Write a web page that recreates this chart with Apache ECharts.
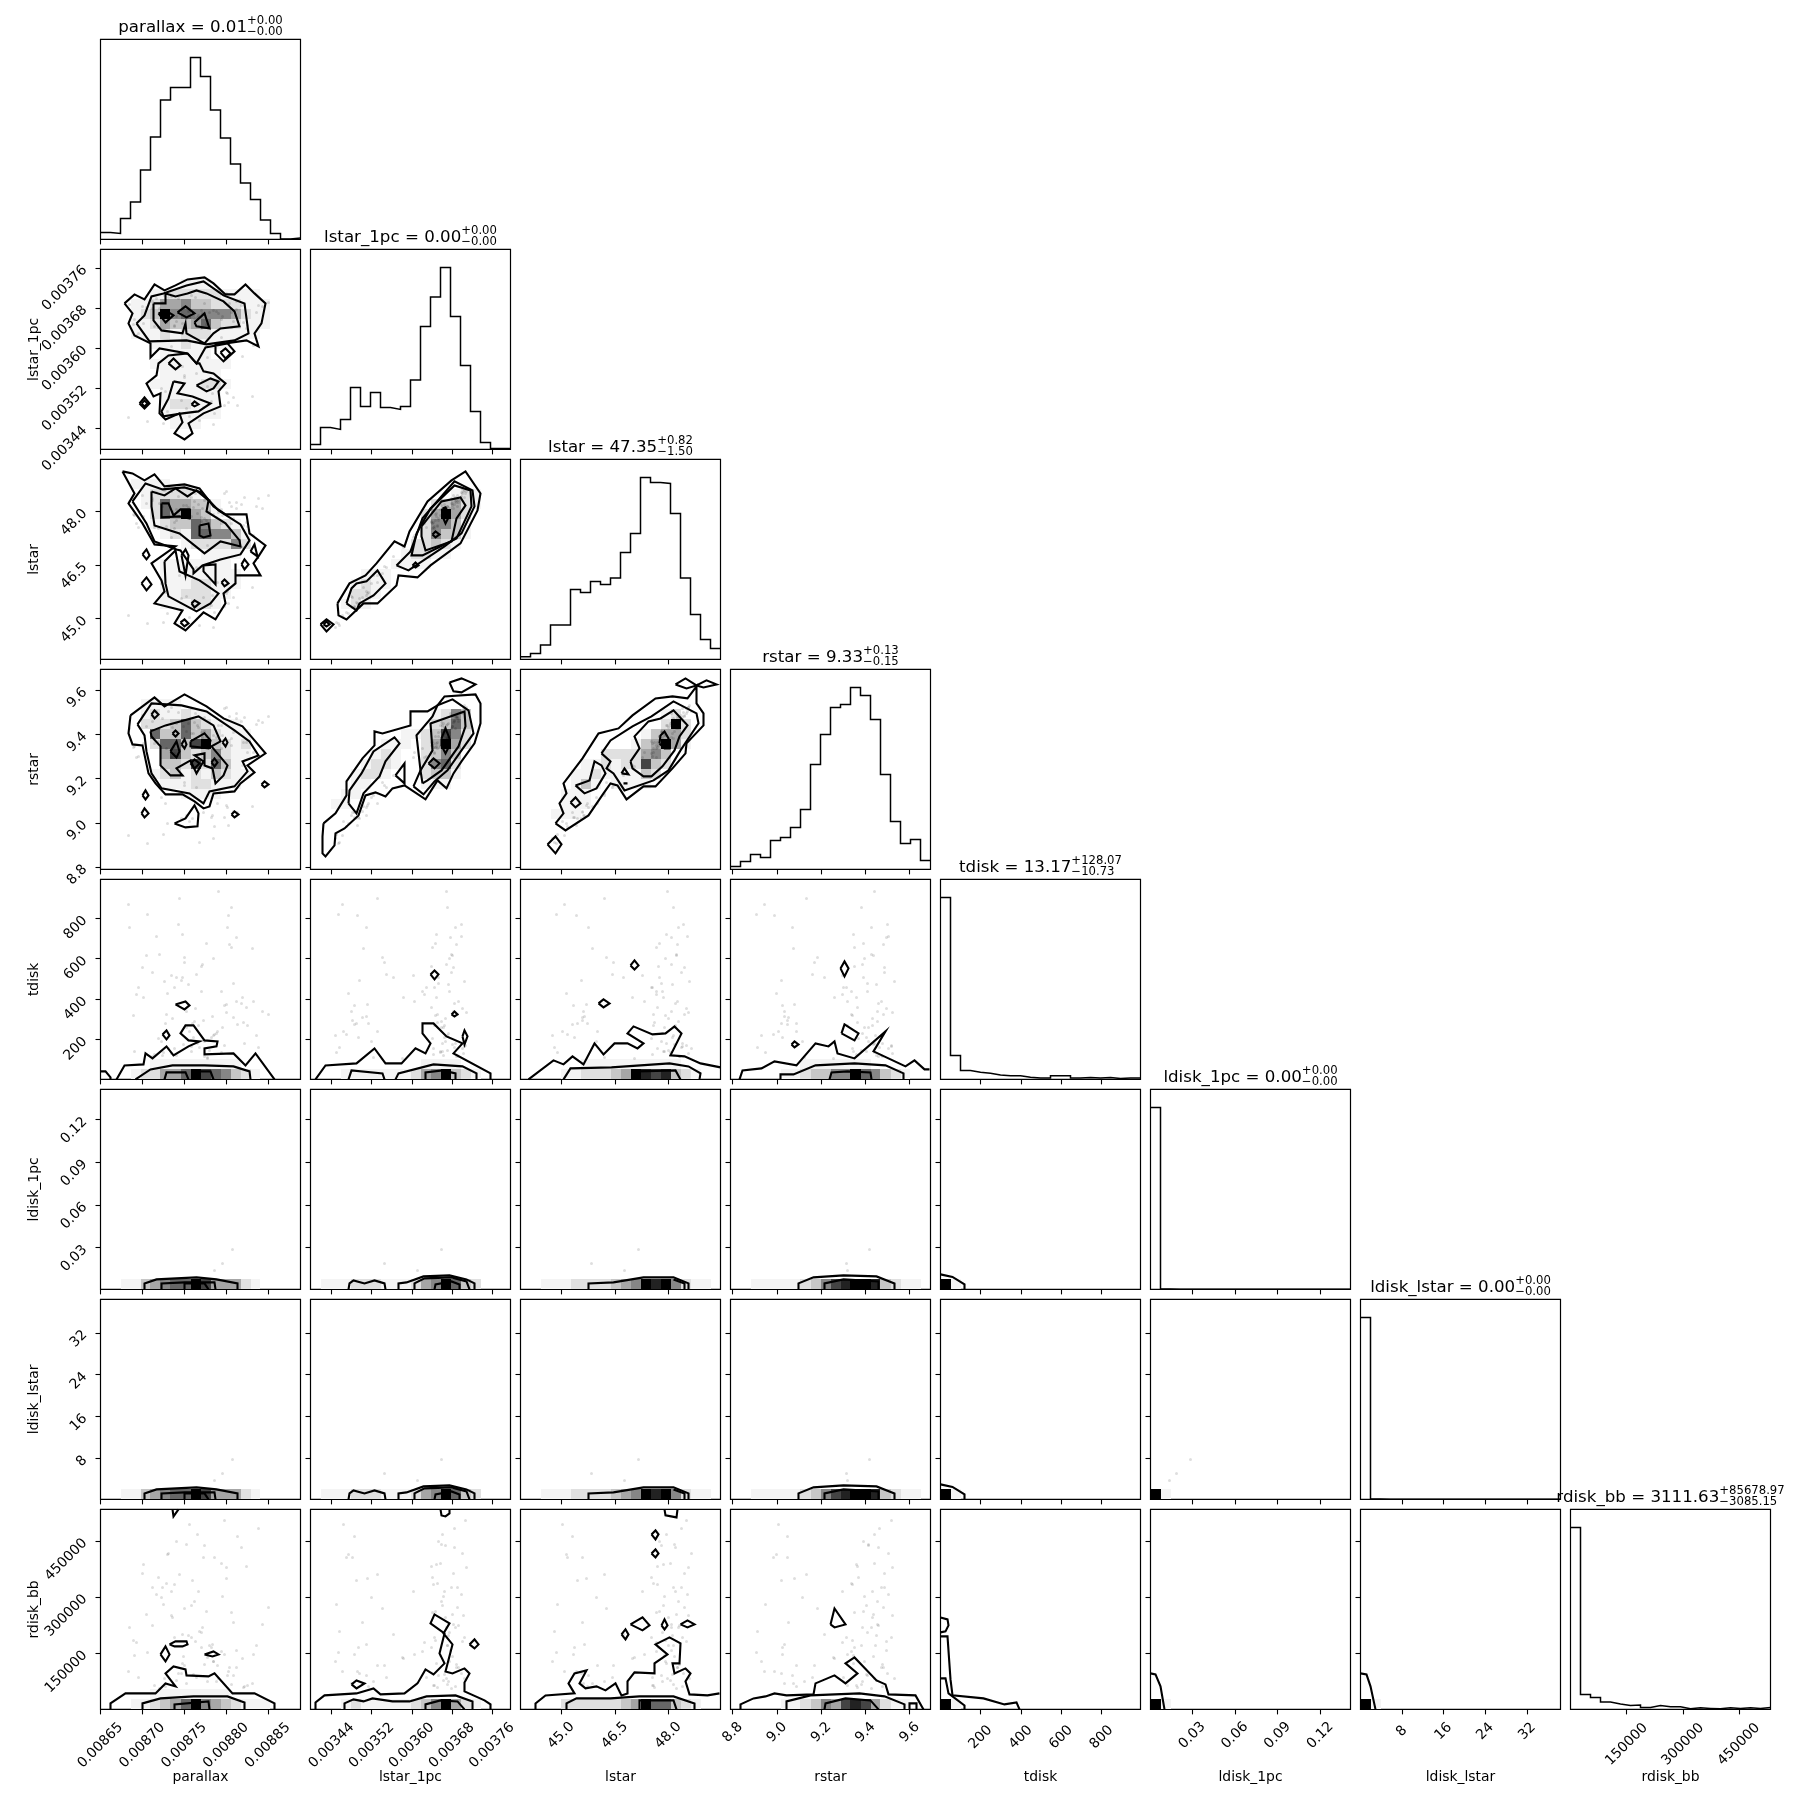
<!DOCTYPE html>
<html><head><meta charset="utf-8"><title>corner</title>
<style>html,body{margin:0;padding:0;background:#fff}#c{width:1809px;height:1809px}</style>
<script src="https://cdn.jsdelivr.net/npm/echarts@6/dist/echarts.min.js"></script></head><body><div id="c"></div>
<script>
const varNames=["parallax","lstar_1pc","lstar","rstar","tdisk","ldisk_1pc","ldisk_lstar","rdisk_bb"];
const medians=["0.01","0.00","47.35","9.33","13.17","0.00","0.00","3111.63"];
const errPlus=["0.00","0.00","0.82","0.13","128.07","0.00","0.00","85678.97"];
const errMinus=["0.00","0.00","1.50","0.15","10.73","0.00","0.00","3085.15"];
const rangeMin=[0.00865,0.003398,43.86,8.79,2,0.0007,0.1,0];
const rangeMax=[0.008889,0.003797,49.46,9.694,993,0.1412,38.4,534000];
const tickValues=[[0.00865,0.0087,0.00875,0.0088,0.00885],[0.00344,0.00352,0.0036,0.00368,0.00376],[45,46.5,48],[8.8,9,9.2,9.4,9.6],[200,400,600,800],[0.03,0.06,0.09,0.12],[8,16,24,32],[150000,300000,450000]];
const tickLabels=[["0.00865","0.00870","0.00875","0.00880","0.00885"],["0.00344","0.00352","0.00360","0.00368","0.00376"],["45.0","46.5","48.0"],["8.8","9.0","9.2","9.4","9.6"],["200","400","600","800"],["0.03","0.06","0.09","0.12"],["8","16","24","32"],["150000","300000","450000"]];
// histogram heights, 20 equal bins per variable, relative scale (peak about 91)
const histParallax=[3.5,3,10.5,18.7,34.7,51.2,69.7,76,76,91,81.5,64.7,50.7,37.7,28.2,20,9.7,3,0.2,0.7];
const histLstar1pc=[2.5,11,10,15,31,21.5,28.5,21,20,21.5,34.7,61.5,76.2,91,66.5,42,19,3.5,0.5,0.5];
const histLstar=[1.3,3,7.2,17.2,17.2,35,33.5,39,37.5,40.7,53.5,63,91,88.5,88,73,40.7,22.5,10,5.5];
const histRstar=[1.5,4,7.5,6,14.5,16,21,30,52.5,67.5,81,82.5,91,87,75,47.5,24,13,15,4.5];
const histTdisk=[91,12,4.5,3.6,3.1,2.2,1.8,1.8,1.1,0.7,0.7,1.8,1.8,0.7,0.9,0.7,0.9,0.4,0.7,0.7];
const histLdisk1pc=[91,0.2,0.1,0.1,0.1,0.1,0.1,0.1,0.1,0.1,0.1,0.1,0.1,0.1,0.1,0.1,0.1,0.1,0.1,0.1];
const histLdiskLstar=[91,0.2,0.1,0.1,0.1,0.1,0.1,0.1,0.1,0.1,0.1,0.1,0.1,0.1,0.1,0.1,0.1,0.1,0.1,0.1];
const histRdisk=[91,7.5,6,3.7,2.7,2,2.2,1,2,1.3,1.3,0.3,0.8,0.5,0.3,0.8,0.5,0.8,0.5,1];
const hists=[histParallax,histLstar1pc,histLstar,histRstar,histTdisk,histLdisk1pc,histLdiskLstar,histRdisk];

// All 2-D values below are in bin units (0..20) of the variable's range, as a corner plot bins them.
// Sparse samples, estimated by eye from the scatter
const tailParallax=[9.3,4.6,11.2,7.4,13.1,6.7,10.4,8.2,14.3,5.6,12.4,9.7,3.8,16.2,7.9,11.6,10.1,6.3,13.6,8.6,15.2,9.1,4.3,12.8,7.2,10.7,5.2,14.7,8.9,11.3,9.5,6.1,13.3,2.9,10.3,7.6,12.1,16.8,8.4,5.8,11.8,9.9,14.1,6.5,10.6,3.4,12.6,8.1,15.6,7.1];
const tailLstar1pc=[13.4,14.2,5.6,12.3,13.7,3.8,14.6,8.3,12.7,15.1,4.4,13.2,11.6,14.3,6.7,13.8,12.1,2.6,14.8,13.1,5.3,15.4,12.6,4.7,13.5,9.2,14.1,12.4,3.3,13.9,15.2,6.1,12.8,14.5,4.2,13.3,11.2,14.7,7.4,12.2,13.6,2.9,14.4,5.8,12.5,13,15.6,4.9,13.7,10.3];
const tailLstar=[15.2,15.6,6.4,13.7,15.3,4.6,15.9,10.3,13.4,16.7,5.3,14.6,13.2,15.1,8.4,14.2,13.8,3.7,15.7,15.4,7.2,16.2,14.3,5.6,14.8,11.4,16.1,13.3,4.2,14.5,16.6,7.6,14.1,15.8,6.2,15,13.6,16.4,9.3,13.1,14.7,3.4,15.5,6.7,13.9,14.4,16.8,6.1,15.3,12.2];
const tailRstar=[13.6,14.3,5.4,12.2,13.1,4.6,15.2,9.4,12.7,15.8,5.2,14.4,11.3,14.7,7.6,13.2,12.4,3.5,15.1,13.8,6.3,16.1,12.6,4.4,14.2,10.3,15.4,11.7,4.8,13.4,15.6,7.2,13.7,14.1,5.7,14.6,12.1,15.3,8.4,12.8,14.4,2.7,14.8,6.6,13.3,12.3,16.2,5.1,14.5,11.2];
const tailTdisk=[4.2,12.4,6.3,3.1,17.2,8.6,2.3,10.2,5.7,14.3,7.4,3.6,9.2,6.8,18.1,4.6,11.3,2.7,7.8,5.2,13.1,3.3,8.2,16.4,6.1,2.1,10.7,5.4,4.8,12.1,7.1,3.8,9.6,15.2,5.9,2.4,8.8,6.5,11.7,4.1,18.8,3.2,7.6,5.6,13.6,2.8,6.7,9.9,4.4,10.4];
const tailRdisk=[3.5,9.5,6.5,12.5,2.5,15.5,4.5,7.5,2.2,11.5,5.5,17.5,3.2,8.5,13.5,2.8,6.2,10.5,4.2,16.5,2.6,7.2,14.5,3.8,9.2,5.2,12.2,2.4,18.5,4.8,6.8,11.2,3.4,8.2,15.2,2.9,5.8,10.2,4.4,13.2,3.1,7.8,16.2,2.3,9.8,5.4,14.2,3.6,6.4,11.8];
const wideParallax=[8.3,12.6,5.4,10.2,13.7,7.8,9.1,3.6,11.4,12.9,6.6,10.7,8.8,15.8,4.7,12.2,9.6,7.1,14.6,11.1,5.9,10.4,13.3,8.2,6.2,14.2,9.4,2.8,12.4,7.4,11.7,4.2,10.9,8.6,13.1,6.8,15.3,9.8,12.7,5.2,7.6,11.3,10.1,14.4,8.4,3.3,12.1,6.4,9.2,13.6];
const wideLstar1pc=[14.2,5.7,12.3,13.6,4.4,15.1,13.2,11.4,3.6,14.6,12.7,6.3,13.8,14.4,2.8,13.3,7.6,15.3,12.1,4.8,14.1,13.5,5.2,12.6,14.7,9.3,13.1,3.2,15.5,12.4,6.7,14.3,13.7,4.1,12.2,15.2,10.4,13.4,5.6,14.8,12.8,2.5,13.9,14.5,7.2,12.5,13,15.4,4.6,14];
const wideLstar=[15.4,6.6,13.2,15.1,5.2,16.3,14.3,13.6,4.7,15.7,13.3,8.4,15.2,16.1,3.6,14.4,9.2,16.8,13.7,5.4,15.6,14.1,6.2,14.6,15.3,11.2,15.8,4.4,16.6,13.1,7.7,16.4,14.8,6.3,13.6,17.1,12.4,15.5,6.8,15.9,13.9,3.2,14.2,16.2,8.6,14.5,15,16.9,5.7,15.1];
const wideRstar=[14.3,6.4,12.6,13.2,5.7,15.7,13.6,11.2,4.3,15.3,12.1,7.4,14.6,14.9,2.6,13.4,8.2,16.2,12.7,5.2,14.1,13.8,5.8,12.3,15.1,10.4,14.7,3.4,16.1,11.6,6.6,15.4,13.1,5.4,12.4,15.8,11.7,14.2,6.2,14.8,13.3,3.1,13.7,15.2,8.7,12.2,14.4,16.4,5.1,15.6];
const wideRdisk=[5.3,13.1,2.4,8.2,17.3,3.6,10.4,6.7,15.2,4.2,12.6,2.8,7.4,18.1,5.7,11.3,3.2,9.4,14.3,6.2,2.1,16.4,8.7,4.6,12.2,5.1,10.8,3.8,18.9,7.2,4.4,13.6,6.4,2.6,9.7,15.6,5.5,11.8,3.4,8.4,16.8,4.8,7.7,2.3,10.1,6.9,14.6,3.1,12.9,5.9];
const wideTdisk=[3.5,7.5,2.5,11.5,5.5,15.5,2.8,8.5,4.5,13.5,6.5,2.2,9.5,3.2,16.5,5.2,10.5,2.6,7.2,4.2,12.5,3.8,6.2,14.5,2.4,8.2,5.8,17.5,3.4,9.2,4.8,11.2,2.9,6.8,13.2,3.1,7.8,5.4,15.2,2.3,10.2,4.4,8.8,3.6,12.2,6.4,2.7,9.8,5.6,14.2];
const rareParallax=[13.2,12.2,11.4];
const rareLstar1pc=[13.1,7.4,10.7];
const rareLstar=[11.8,7.1,10.4];
const rareRstar=[13.9,11.6,11.7];
const rareLdisk=[4,2.6,1.9];

// 2-D density: rows of [y bin, first x bin, level per bin (0..9)]
const dens_1_0=[[16,8,"111"],[15,5,"11222221111"],[14,3,"11244533222111"],[13,3,"12395655554211"],[12,3,"11243346322111"],[11,3,"1112122211111"],[10,5,"11121111"],[9,6,"11111"],[8,5,"11111111"],[7,6,"111111"],[6,5,"11111221"],[5,6,"111111"],[4,6,"122111"],[3,6,"111111"],[2,7,"111"]];
const dens_2_0=[[17,3,"1111"],[16,4,"122221"],[15,4,"12644331"],[14,5,"2649431"],[13,5,"123365321"],[12,6,"121665531"],[11,8,"1222252"],[10,10,"1111"],[9,6,"1111111"],[8,6,"11111111"],[7,6,"11122111"],[6,6,"1122211"],[5,6,"111221"]];
const dens_2_1=[[16,14,"121"],[15,12,"23421"],[14,11,"24942"],[13,11,"25531"],[12,11,"25331"],[11,10,"22321"],[10,9,"12211"],[9,8,"1111"],[8,5,"111"],[7,4,"1211"],[6,4,"221"],[5,3,"121"]];
const dens_3_0=[[16,4,"1111"],[15,4,"1211211"],[14,4,"2223632111"],[13,5,"6336342111"],[12,5,"2663793212"],[11,6,"473235211"],[10,6,"33272631"],[9,5,"1231213211"],[8,6,"11122111"],[7,8,"1111"]];
const dens_3_1=[[15,12,"1253"],[14,12,"2363"],[13,11,"23752"],[12,11,"24942"],[11,11,"2353"],[10,11,"2562"],[9,11,"2331"],[8,11,"111"],[13,9,"11"],[12,7,"111"],[11,6,"121"],[10,5,"1221"],[9,4,"1221"],[8,4,"11"],[7,3,"11"],[6,2,"11"]];
const dens_3_2=[[15,14,"12"],[14,14,"292"],[13,12,"13442"],[12,11,"134941"],[11,8,"2222453"],[10,6,"112122732"],[9,5,"112111132"],[8,5,"131"],[8,9,"1111"],[7,4,"111"],[6,4,"111"],[5,3,"111"]];
const dens_4_0=[[0,3,"1224469765321"],[1,5,"111111111"]];
const dens_4_1=[[0,3,"11111112459321"],[1,11,"1111"]];
const dens_4_2=[[0,4,"11222349878321"],[1,6,"1111111111"]];
const dens_4_3=[[0,5,"1123355965321"],[1,7,"1111111"]];
const dens_5_0=[[0,2,"11345669744421"]];
const dens_5_1=[[0,1,"1112221112459632"]];
const dens_5_2=[[0,2,"11122223459895211"]];
const dens_5_3=[[0,2,"11111235789983211"]];
const dens_7_0=[[0,3,"11234695432111"],[1,5,"11111111"]];
const dens_7_1=[[0,3,"12111112359421"]];
const dens_7_2=[[0,4,"22222234966321"]];
const dens_7_3=[[0,5,"1123547874211"]];
const dens_peak=[[0,0,"91"]];

// Contours: flat x,y lists in bin units
const cont_1_0=[
[2.4,14.6,3.4,15.5,4.4,15,5.4,16.5,6.4,15.9,7.5,16.4,8.7,17,10.4,17.2,11.3,16.6,12.5,15.5,13.4,15.5,14.5,16.5,15.4,15.6,16.5,14.6,16.1,12.6,15.4,11.6,15.8,10.3,14.6,10.9,12.5,10.6,11.5,10.5,11.5,9.6,12.3,8.8,13.4,9.8,12.7,10.6,10.5,10.2,9.6,8.6,8.7,9.6,5.9,10.1,5,9.2,5,10.6,3.4,11.4,2.8,12.6,3.2,13.6],
[3.6,12.6,4.4,13.4,5.1,15.3,6.3,15.6,8.6,16.4,10.3,16.8,12.3,15.4,14.4,14.6,14.8,11.6,13.4,10.9,10.6,10.5,8.6,10.9,4.9,10.8],
[5.3,14.6,6.5,14.6,6.5,15.6,7.5,15.3,8.7,15.6,9.6,15.9,10.6,15.6,12.3,14.8,13.4,13.8,13.9,12.3,12,12.1,11.3,11.6,10.4,10.6,8.6,11.6,8.5,12.6,8.2,11.6,6.1,11.9,5.3,12.9],
[5.8,13.6,6.5,13.9,7.3,13.4,6.5,12.7],[7.7,13.7,8.5,14.3,9.4,13.6,8.6,13.2],[9.4,12.7,10.4,13.6,10.9,12.1,9.6,12.3],
[8.7,9.6,6.8,9.4,5.8,8.6,5.6,7.4,4.6,6.6,5.3,5.3,6,5.6,5.9,3.6,6.5,3,7.9,3.6,8.2,2.7,7.4,1.6,8.4,1,9.2,1.6,8.8,2.6,10.3,3.6,12,4.3,11.8,5.8,12.5,6.6,11.3,7.6,10.3,7.8,9.9,8.6,9.6,8.6],
[7.3,6.8,8.4,6.6,7.7,5.6,9.2,5.3,11,4.6,9.8,3.8,8.2,3.6,6.3,3.3,6.1,3.8,6.8,5.1],
[9.6,6.4,11,7.1,11.8,6.8,11.3,6.1,10.6,5.8],
[6.8,8.6,7.3,9.1,8,8.4,7.5,8],[12,9.7,12.5,10.1,13,9.6,12.5,9.1],[3.9,4.6,4.4,5.2,4.9,4.6,4.4,4.1],[4.1,4.6,4.4,4.9,4.7,4.6,4.4,4.3],[9.1,4.5,9.4,4.8,9.8,4.5,9.4,4.3]];
const cont_2_0=[
[2.2,18.8,3.2,18.6,4.4,17.9,5.4,18.5,6.4,17.3,8.4,17.5,9.9,17.1,11.3,15.3,12.5,14.5,14.6,14.5,14.9,12.6,16.5,11.4,15.8,10.3,15.3,9.6,16,8.4,13.5,8.4,13.5,9.6,13.5,7.6,12.3,6.6,12.5,5.6,11.5,4,10.3,4.7,8.5,2.9,7.4,3.6,8.2,4.9,5.4,5.6,6.4,6.8,6.1,7.9,5.1,9.6,7.5,11.3,5.4,11.5,4.2,13.6,2.8,15.6,3.4,16.6],
[3.2,15.8,4.5,17.6,6.2,17,8.4,17.2,10.1,16.7,11.8,14.9,14,13.5,14.9,11.9,14,10.5,12,10,10.2,9.4,9.3,8.6,9.3,9,8,10.9,7.6,11,5.4,11.8,4.6,13.6],
[6.4,9.8,7.5,10.9,7.9,8.8,9.9,7.9,11.8,6.6,11,5.6,9.6,4.8,6.8,6.3,6.5,7.6],
[5.1,16.8,6.4,16.4,7.5,17.1,8.7,16.3,9.6,16.9,10.8,15.9,10.6,14.8,12.5,13.6,13.9,11.9,14,11.3,12,11.8,10.4,10.6,7.9,12.6,5.4,13.4,5.1,15.3],
[6.1,15.6,6.8,15.6,7.3,14.4,8,15,8.9,15,8.9,14.1,7.9,14.3,6.1,14.2],[9.9,13.4,10.8,13.6,11,12.4,10.3,12.2,9.9,12.4],
[4.2,10.5,4.6,11,4.9,10.4,4.6,10],[4.1,7.6,4.6,8.2,5.1,7.5,4.6,6.9],[8.1,10.4,8.5,11,8.8,10.4,8.5,8.4],[10.3,9.4,11.5,9.5,11.5,7.5,10.3,8.8],[12.1,7.7,12.4,8,12.8,7.6,12.4,7.3],[14.1,9.5,14.4,10,14.8,9.5,14.4,9],[15,10.8,15.4,11.5,15.7,10.3],[9.1,5.6,9.4,5.9,9.9,5.6,9.4,5.2],[8,3.7,8.4,4,8.8,3.6,8.4,3.3]];
const cont_2_1=[
[2.7,5.6,3.9,7.6,5.5,8.4,6.6,9.6,8.4,11.8,9.4,11.3,9.9,12.8,11.7,15.8,14.1,17.9,15.5,18.8,17,16.6,16.7,14.9,15,11.6,12,9.4,10.7,8.2,8.8,8.4,8.6,7.4,6.7,5.6,5.3,5.6,3.6,4,2.8,4.4],
[8.6,9.4,10,10.8,11.2,14.1,14.4,17.8,16.2,16.9,16.4,15.3,15.1,12.6,13.4,11.3,9.8,8.9],
[10.6,12.6,12,15.1,14.4,17.4,16,16.9,16.1,15.3,14.6,12.1,11.2,10.4,10.1,10.4],
[11.1,13.3,13.1,15.8,15,16.2,15.5,15.4,14.6,14.1,14.1,11.8,11.5,10.9,11.1,12.3],
[13.2,15.1,13.5,15.2,13.9,14.4,13.5,13.6,13.2,14.3],[12.2,12.5,12.5,12.8,12.9,12.5,12.5,12.2],[10.2,9.4,10.5,9.7,10.8,9.4,10.5,9.2],
[3.6,5.6,4.1,7.1,4.6,7.6,5.6,7.8,6.7,8.9,7.5,7.6,6.3,6.4,4.9,5.6,4.6,4.9],
[1,3.5,1.6,4,2.3,3.5,1.6,2.8],[1.3,3.5,1.6,3.8,1.9,3.5,1.6,3.3]];
const cont_3_0=[
[3,15.4,5.4,17.2,6.4,16.3,8.4,17.5,10.6,16.3,12.3,15.1,14.2,14.3,15.4,12.9,16.5,11.6,14.7,10.4,15.4,9.7,14,8.6,13.4,7.8,11.3,7.6,10.9,6.3,10.3,6.1,9.4,6.8,8.2,7.5,6.5,7.5,5.5,8.6,4.8,9.6,4.2,12.4,3.2,12.5,2.8,13.6],
[3.7,14.5,5.1,16.6,8.1,16.4,10.6,15.8,13.4,13.9,14.9,12.8,15.8,11.4,14.2,10.8,14.7,9.8,13.4,8.3,10.9,7.8,10.3,6.6,8.9,7.6,6.1,8.1,5.1,9.6,4.6,11.8,4.4,13.4],
[5,13.8,6.5,14.4,9.8,15.3,11.3,14.4,12,12.8,11.1,12.3,12.7,10.4,12.3,9.4,11.5,8.6,11.2,10.1,10.4,10.4,10.4,11.6,9.4,11.4,10.3,10.8,9.6,9.6,9,10.9,7.6,10.1,8.2,9.4,7,9.4,6,10.4,6,12.3,5.1,13.3],
[7,11.8,7.6,12.8,7.9,11.8,7.6,11.2],[7.2,13.6,7.5,13.9,7.8,13.6,7.5,13.3],[8.1,12.5,8.4,13,8.6,12.5,8.4,12.1],[9,12.8,10.4,13.6,11,12.9,10.8,12.1,9,12.3],[9,10.6,9.4,11,9.9,10.6,9.4,10.1],[11.1,10.7,11.4,11.1,11.7,10.7,11.4,10.3],[12.2,12.7,12.5,13.1,12.7,12.7,12.5,12.3],[5.1,15.5,5.4,15.9,5.8,15.5,5.4,15.1],
[4.2,7.4,4.5,7.9,4.8,7.4,4.5,7],[4.1,5.6,4.4,6.1,4.8,5.6,4.4,5.2],[16.1,8.5,16.4,8.8,16.8,8.5,16.4,8.2],[13.1,5.5,13.4,5.8,13.8,5.5,13.4,5.2],
[7.4,4.6,8.5,5.1,9.4,6.4,9.8,5.6,9.7,4.3,8.5,4.2]];
const cont_3_1=[
[1.3,4.6,2.5,5.6,3.6,7.4,3.6,8.8,5.2,11.1,6.4,12.4,6.4,13.8,7.2,13.6,10,14.4,10,15.8,11.7,15.8,12.7,16.4,13.4,17.3,16.5,17.5,17,16.6,17,14.6,16.4,12.6,15.1,10.8,14.3,9.6,13.6,8.1,12.7,8.9,12.2,8.1,11.5,7,9.4,8.4,8.2,8.1,7.5,7.3,6.5,7.7,5.5,7.4,4.8,5.4,3.4,4.1,2.5,3.6,2.4,2.4,1.5,1.3,1.2,1.6,1.2,3.3],
[10.3,8.3,11,9.9,10.6,13.4,12.2,15.3,12.7,16.4,14.2,17,15.8,15.9,16.3,13.6,15.1,11.9,13.7,9.9,12.4,8.8,11.3,7.5],
[11.2,8.6,11,9.9,12.2,11.9,12,14.6,15.4,15.8,15.5,14.3,14.8,12.3,13.1,9.9,11.7,8.9],
[11.8,10.6,12.3,11.1,12.9,10.6,12.4,10.1],[13.1,13.1,13.5,14.1,13.9,13.1,13.9,12.4,13.5,11.6,13.1,12.4],
[3.8,6.6,3.9,7.9,5.1,9.6,6.3,11.8,8.4,13.2,8.9,12.6,7.5,10.8,6.9,9.3,5.3,7.6,4.6,5.6],
[8.5,9.4,9.4,10.6,9.4,8.6],[13.9,18.7,15.1,19.1,16.5,18.5,15.1,17.7,14.3,17.8]];
const cont_3_2=[
[3.5,4.6,4.3,5.6,3.9,6.6,4.6,7.6,4.3,8.6,6.2,11.1,7.8,13.6,9.8,14.1,11.2,15.4,13.5,17.1,15.2,17.3,16.7,17.1,17.6,18.3,17.6,16.6,18.3,15.6,18.3,14.4,16.6,12.6,16.5,11.6,15.2,10.1,13.5,8.3,12.3,8.3,10.6,7,9.7,8.4,9,8.6,8.3,7.6,6.8,5.4,4.5,3.9],
[15.5,18.5,16.5,19.1,17.6,18.4,16.6,18.1],[17.6,18.4,18.6,18.9,19.6,18.5,18.3,18.2],
[8.1,11.6,9,12.9,11.2,14.3,13.1,15.3,15.3,16.8,17.6,15.6,17.8,14.6,16,11.9,14.8,9.9,13.3,8.9,10.4,7.9,9.3,9.6,8.6,10.1,9,10.8],
[11,10.8,11.9,12.1,11.4,13.3,12.8,14.8,14,15.1,15.3,15.9,16.7,14.4,15.9,13.3,15.4,11.9,14.2,10.3,13.1,9.3,12.3,9.3,11.2,10.1],
[13.9,12.6,14,13.4,14.4,13.8,14.8,13.1,14.9,12.1,14.4,12.1],
[5.5,8.4,6.9,8.9,7.4,10.8,8.1,10.4,8.5,9.6,7.6,8.1,6.4,7.6],
[5,6.7,5.5,7.2,6,6.6,5.5,6.2],[10.1,9.6,10.4,10.1,10.8,9.5],[10.3,8.6,10.5,8.8,10.7,8.6,10.5,8.4],[2.7,2.5,3.5,3.3,4.1,2.5,3.5,1.6]];
const cont_4_0=[
[0,0.8,0.5,0.8,1,0.2,1,0],
[1.6,0,2.4,1.4,4.3,1.5,4.5,2.6,5.2,2.1,6.6,3.3,7.3,2.4,8.8,3.3,9.9,3.8,8.8,3.9,8,4.6,8.5,5.4,9.3,5.4,10.4,3.9,11.7,3.8,11.6,3.3,10.4,3.1,10.4,2.5,13.3,2.6,14.5,1.4,15.5,2.6,17.4,0],
[3.5,0,5,1,7.2,1.4,10.4,1.4,13.3,1.3,14.9,0.8,15,0],
[6.4,0,6.6,0.7,8.5,0.7,8.8,0],[9.5,0,9.5,0.8,11,0.8,11.3,0],
[7.5,7.5,8.5,7.8,8.9,7.4,8.4,7],[6.2,4.5,6.6,4.9,6.9,4.4,6.6,4]];
const cont_4_1=[
[0.5,0,1.5,1.4,4.6,1.6,6.4,3.1,7.5,1.6,9.1,1.6,10.5,3.1,11.5,2.6,12,3.6,11.2,4.6,11.2,5.6,12.3,5.6,13.6,4.3,15.2,3.6,14.3,2.6,18,0.6,18,0],
[15.2,4.3,15.4,4.9,15.7,4.3,15.4,3.5],[3.8,0,4.1,0.9,7.2,0.6,7.4,0],
[8.5,0,8.8,0.6,12.3,1.5,15.2,1.3,16.6,0.6,16.6,0],[11.5,0,11.5,0.7,13.2,0.9,14.5,0.6,14.5,0],
[12,10.5,12.4,10.9,12.8,10.5,12.4,10],[14.1,6.5,14.4,6.8,14.7,6.5,14.4,6.3]];
const cont_4_2=[
[0.8,0,3.3,1.9,4.3,1.5,5.2,2.3,6.3,1.5,7.4,3.6,8.3,2.5,9.4,3.6,10.7,3.6,11.7,3.1,12.3,3.6,10.7,4.6,11.3,5.3,13.2,4.5,14.5,4.6,15.4,5.3,16.1,4.6,15,2.4,16.4,2.3,18,1.6,20,1.2],
[4.3,0,5,1.1,9.1,1.2,14.9,1.6,16.8,1.3,18,0.6,17.9,0],[11.3,0,11.7,0.8,15.5,0.9,16,0],
[11,11.4,11.4,11.9,11.8,11.4,11.4,11],[7.8,7.6,8.3,8,8.9,7.6,8.3,7.2]];
const cont_4_3=[
[0.9,0,1.2,0.9,3.1,1.1,4.4,1.8,6.6,1.4,8.5,3.6,9.8,3.3,10.4,3.8,10.7,2.6,12.4,2.1,15.5,4.8,14.3,2.8,17.5,1.3,18.4,1.9,19.4,1,19.9,1],
[5,0,5,0.5,6.3,0.5,8.5,1.4,12.4,1.6,15.5,1.4,17.3,0.6,17.3,0],[9.9,0,10.1,0.7,11.7,0.8,14,0.7,14.1,0],
[11.1,4.6,11.4,5.5,12.8,4.6,12.4,3.9],[6.1,3.5,6.4,3.8,6.8,3.5,6.4,3.2],[11,11.1,11.4,11.8,11.8,11.1,11.4,10.3]];
const cont_5_0=[[4.4,0,4.4,0.6,5.6,1,9.6,1.2,11.6,1,13.7,0.6,13.7,0],[6.1,0,6.1,0.6,8.4,0.7,11.4,0.7,11.5,0],[8.4,0,8.4,0.6,10.4,0.6,10.8,0]];
const cont_5_1=[[3.8,0,3.9,0.6,4.3,0.9,5.4,0.6,6.4,0.9,7.4,0.6,7.5,0],[8.8,0,8.8,0.6,9.6,0.7,11.3,1.3,13.9,1.4,15.6,1,16.4,0.6,16.4,0],[10.4,0,10.4,0.6,11.4,1.1,14.1,1.2,15.6,0.8,15.9,0],[12.4,0,12.5,0.5,14.1,0.8,14.9,0.5,14.9,0]];
const cont_5_2=[[6.8,0,6.8,0.6,9.3,0.7,12.3,1.2,15.3,1.2,16.8,0.6,16.8,0],[16.4,0,16.4,0.6,15.3,1]];
const cont_5_3=[[6.8,0,6.8,0.6,8.3,1.2,11.3,1.4,14.6,1.3,16.4,0.6,16.4,0],[9.4,0,9.4,0.6,11.3,1,14.8,0.8,14.8,0]];
const cont_dome=[[0,1.5,1.2,1.25,2.4,0.5,2.4,0]];
const cont_7_0=[
[1,0,1,0.6,2.5,1.6,5.5,1.6,6.5,2.6,7.5,2.3,6.5,3.6,7.3,4.3,8.5,4,8.6,3.4,10.8,3.3,11.4,3.6,13.2,1.6,15.4,1.6,17.4,0.6,17.4,0],
[4.2,0,4.2,0.6,6,1.1,9.3,1.3,12.7,1.3,14.4,0.7,14.4,0],[7.4,0,7.4,0.5,10.8,0.8,10.9,0],
[6,5.5,6.5,6.3,6.9,5.5,6.5,4.8],[6.9,6.5,7.5,6.8,8.6,6.8,8.7,6.5,8.2,6.3,7.4,6.3],[10.4,5.5,11.3,5.8,11.8,5.5,11.2,5.3],[7.2,20,7.3,19.3,7.5,19.2,7.8,20]];
const cont_7_1=[
[0.5,0,0.5,0.7,1.4,1.4,4.6,1.6,6.3,2.1,7,1.5,9.4,1.6,10.7,2.6,11.5,4,12.3,3.5,13.4,4.6,12.9,5.6,13.4,7.6,12,8.6,12.4,9.5,13.9,8.6,13.3,7.6,14.2,6.5,13.5,3.8,14.2,3.6,15.4,4.1,15.9,3.6,15.4,2.7,15.4,1.8,17.4,0.9,18,0.5,18,0],
[3.4,0,3.4,0.6,4.3,1,5.3,0.8,6.2,1.1,8.2,0.8,9.9,0.8,11.6,1.3,14.5,1.4,16.2,0.8,16.2,0],[11.5,0,11.5,0.5,13,0.9,14.7,0.8,15.4,0],
[15.9,6.5,16.4,7,16.8,6.5,16.4,6.1],[4.1,2.5,4.6,2.9,5.4,2.6,4.6,2.1],[13,20,13.1,19.4,13.5,19.3,13.9,19.6,13.9,20]];
const cont_7_2=[
[1.5,0,1.5,0.6,2.5,1.4,5.4,1.6,4.8,2.6,5.4,3.6,6.6,3.9,5.9,2.6,6.5,2.1,7.6,2.3,8.5,1.9,9.5,2.6,10.1,1.4,10.7,1.6,10.7,2.8,11.4,3.7,13.4,3.6,13.4,4.6,14.7,5.5,13.5,6.5,14.9,7.2,16,6.6,15.9,4.6,15.2,4.6,15.4,3.6,16.5,4.1,17,3.6,16.5,2.8,16.9,1.5,18.7,1.4,19.9,1.6],
[4.6,0,4.6,0.6,5.6,1.1,9,1.1,11.9,1.3,15.3,1.3,17.4,0.6,17.4,0],[11.9,0,11.9,0.9,15.3,0.9,15.6,0],
[10.1,7.5,10.5,8,10.8,7.5,10.5,7],[11,8.5,12.2,9.2,12.9,8.4,12.2,7.9],[14.1,8.4,14.4,9,14.7,8.4,14.4,8],[16,8.5,16.7,8.9,17.4,8.5,16.7,8.2],[13.1,17.5,13.5,17.9,13.8,17.5,13.5,17],[13.1,15.6,13.5,16,13.8,15.6,13.5,15.2],[14.4,20,14.5,19.4,15.6,19.2,15.7,20]];
const cont_7_3=[
[1,0,1,0.5,2.3,1.1,3.5,1.3,4.4,1.6,5.6,1.4,8.3,1.5,8.5,2.6,10.4,3.4,11.5,2.6,12.7,3.6,11.5,4.6,12.4,5.2,14.6,2.9,15.5,2.5,15.8,1.5,18.5,1.4,19.3,0],
[5.6,0,5.6,0.8,8,1.4,12.9,1.6,15.4,1.3,17.4,0.5,17.4,0],[9.4,0,9.5,0.6,11.5,1.1,14,0.9,14.8,0],[17.9,0,17.9,0.6,18.6,0.6,18.6,0],[10,8.5,10.4,10.1,11.5,8.5,10.4,8.2]];
const cont_7_4=[[0,9.2,0.7,9,0.8,8.4,0.5,7.8,0,7.7],[0,7.3,0.7,7.3,1,3,1.2,1.4,4.3,1.1,6.4,0.5,7.6,0.7,7.9,0],[0,3.1,0.5,3.1,0.8,1.6,2.4,0.4,2.4,0]];
const cont_7_5=[[0,3.6,0.5,3.5,1,2.3,1.4,0]];
const cont_7_6=[[0,3.6,0.6,3.5,1,2.3,1.5,0]];

const densityByPanel={"1_0":dens_1_0,"2_0":dens_2_0,"2_1":dens_2_1,"3_0":dens_3_0,"3_1":dens_3_1,"3_2":dens_3_2,"4_0":dens_4_0,"4_1":dens_4_1,"4_2":dens_4_2,"4_3":dens_4_3,"5_0":dens_5_0,"5_1":dens_5_1,"5_2":dens_5_2,"5_3":dens_5_3,"5_4":dens_peak,"6_0":dens_5_0,"6_1":dens_5_1,"6_2":dens_5_2,"6_3":dens_5_3,"6_4":dens_peak,"6_5":dens_peak,"7_0":dens_7_0,"7_1":dens_7_1,"7_2":dens_7_2,"7_3":dens_7_3,"7_4":dens_peak,"7_5":dens_peak,"7_6":dens_peak};
const contoursByPanel={"1_0":cont_1_0,"2_0":cont_2_0,"2_1":cont_2_1,"3_0":cont_3_0,"3_1":cont_3_1,"3_2":cont_3_2,"4_0":cont_4_0,"4_1":cont_4_1,"4_2":cont_4_2,"4_3":cont_4_3,"5_0":cont_5_0,"5_1":cont_5_1,"5_2":cont_5_2,"5_3":cont_5_3,"5_4":cont_dome,"6_0":cont_5_0,"6_1":cont_5_1,"6_2":cont_5_2,"6_3":cont_5_3,"6_4":cont_dome,"7_0":cont_7_0,"7_1":cont_7_1,"7_2":cont_7_2,"7_3":cont_7_3,"7_4":cont_7_4,"7_5":cont_7_5,"7_6":cont_7_6};

// ---- layout and style ----
const PX=100.5,PY=39.4,SIZE=200,PITCH=210;
const FONT='"DejaVu Sans"';
const grayRamp=["#ffffff","#f4f4f4","#e0e0e0","#c6c6c6","#a6a6a6","#868686","#666666","#444444","#222222","#000000"];
const xLabelMargin=[36,36,26,23,28,26,22,35];
const fromBin=(v,b)=>rangeMin[v]+b/20*(rangeMax[v]-rangeMin[v]);

const grids=[],xAxes=[],yAxes=[],series=[],titles=[];
const measure=document.createElement('canvas').getContext('2d');
const textWidth=(t,s)=>{measure.font=s+'px '+FONT;return measure.measureText(t).width;};

function nearestLabel(v,val){let b=0,d=Infinity;tickValues[v].forEach((t,i)=>{const e=Math.abs(t-val);if(e<d){d=e;b=i;}});return tickLabels[v][b];}
function xAxisFor(col,row){
  const last=row===7;
  return {type:'value',gridIndex:grids.length-1,min:rangeMin[col],max:rangeMax[col],position:'bottom',splitLine:{show:false},axisLine:{show:false},
    axisTick:{show:true,length:5,inside:false,customValues:tickValues[col],lineStyle:{color:'#000',width:1.1}},
    axisLabel:{show:last,customValues:tickValues[col],rotate:45,align:'center',verticalAlign:'middle',margin:xLabelMargin[col],color:'#000',fontFamily:FONT,fontSize:13.9,formatter:v=>nearestLabel(col,v)},
    name:last?varNames[col]:'',nameLocation:'middle',nameGap:61,nameMoveOverlap:false,nameTextStyle:{color:'#000',fontFamily:FONT,fontSize:13.9}};
}
function yAxisFor(col,row){
  const first=col===0;
  return {type:'value',gridIndex:grids.length-1,min:rangeMin[row],max:rangeMax[row],position:'left',splitLine:{show:false},axisLine:{show:false},
    axisTick:{show:true,length:5,inside:false,customValues:tickValues[row],lineStyle:{color:'#000',width:1.1}},
    axisLabel:{show:first,customValues:tickValues[row],rotate:45,align:'right',verticalAlign:'middle',margin:15.5,color:'#000',fontFamily:FONT,fontSize:13.9,formatter:v=>nearestLabel(row,v)},
    name:first?varNames[row]:'',nameLocation:'middle',nameGap:59,nameMoveOverlap:false,nameTextStyle:{color:'#000',fontFamily:FONT,fontSize:13.9}};
}
const sampleColumns={0:[tailParallax,wideParallax,rareParallax],1:[tailLstar1pc,wideLstar1pc,rareLstar1pc],2:[tailLstar,wideLstar,rareLstar],3:[tailRstar,wideRstar,rareRstar]};
for(let row=0;row<8;row++){for(let col=0;col<=row;col++){
  const idx=grids.length;
  grids.push({show:true,left:PX+PITCH*col,top:PY+PITCH*row,width:SIZE,height:SIZE,borderColor:'#000',borderWidth:1.2,backgroundColor:'#fff',containLabel:false});
  xAxes.push(xAxisFor(col,row));
  if(row===col){
    yAxes.push({type:'value',gridIndex:idx,min:0,max:100,show:false});
    const pts=[];
    hists[col].forEach((h,i)=>{pts.push([fromBin(col,i),h]);pts.push([fromBin(col,i+1),h]);});
    series.push({type:'line',xAxisIndex:idx,yAxisIndex:idx,data:pts,showSymbol:false,silent:true,animation:false,lineStyle:{color:'#000',width:1.5,join:'miter'}});
    continue;
  }
  yAxes.push(yAxisFor(col,row));
  const key=row+'_'+col;
  const cells=[];
  (densityByPanel[key]||[]).forEach(([j,i0,s])=>{[...s].forEach((d,k)=>{
    if(d!=='0')cells.push([fromBin(col,i0+k),fromBin(col,i0+k+1),fromBin(row,j),fromBin(row,j+1),+d]);
  });});
  if(cells.length)series.push({type:'custom',xAxisIndex:idx,yAxisIndex:idx,data:cells,silent:true,animation:false,z:1,
    encode:{x:[0,1],y:[2,3]},
    renderItem:(p,api)=>{const a=api.coord([api.value(0),api.value(3)]),b=api.coord([api.value(1),api.value(2)]);
      const x=Math.round(a[0]),y=Math.round(a[1]);
      return {type:'rect',shape:{x:x,y:y,width:Math.round(b[0])-x,height:Math.round(b[1])-y},style:{fill:grayRamp[api.value(4)]}};}});
  // sparse points
  const sets=[], xs=sampleColumns;
  if(col<4&&row<4){sets.push([xs[col][0],xs[row][0]]);sets.push([xs[col][1],xs[row][1]]);}
  else if(col<4&&row===4){sets.push([xs[col][0],tailTdisk]);sets.push([xs[col][1],wideTdisk]);}
  else if(col<4&&row===7){sets.push([xs[col][1],wideRdisk]);sets.push([xs[col][0],tailRdisk]);}
  else if(col<4&&(row===5||row===6)){sets.push([xs[col][2],rareLdisk]);}
  else if(row===6&&col===5){sets.push([rareLdisk,rareLdisk]);}
  const dots=[];
  sets.forEach(([a,b])=>a.forEach((v,i)=>dots.push([fromBin(col,v),fromBin(row,b[i])])));
  if(dots.length)series.push({type:'scatter',xAxisIndex:idx,yAxisIndex:idx,data:dots,symbolSize:3,silent:true,animation:false,z:2,itemStyle:{color:'#000',opacity:0.13}});
  (contoursByPanel[key]||[]).forEach(flat=>{
    const pts=[];
    for(let k=0;k<flat.length;k+=2)pts.push([flat[k],flat[k+1]]);
    const edge=q=>q[0]<=0||q[1]<=0||q[0]>=19.9||q[1]>=20;
    if(!edge(pts[0])&&!edge(pts[pts.length-1]))pts.push(pts[0]);
    series.push({type:'line',xAxisIndex:idx,yAxisIndex:idx,data:pts.map(q=>[fromBin(col,q[0]),fromBin(row,q[1])]),showSymbol:false,silent:true,animation:false,z:3,lineStyle:{color:'#000',width:2.1,join:'miter'}});
  });
}}
// titles: main text with stacked upper and lower errors
for(let v=0;v<8;v++){
  const main=varNames[v]+' = '+medians[v];
  const plus='+'+errPlus[v], minus='\u2212'+errMinus[v];
  const wm=textWidth(main,16.67), ws=Math.max(textWidth(plus,11.67),textWidth(minus,11.67));
  const cx=PX+PITCH*v+SIZE/2, x0=cx-(wm+ws)/2, top=PY+PITCH*v;
  titles.push({text:main,left:x0,top:top-20.5,padding:0,textStyle:{color:'#000',fontFamily:FONT,fontSize:16.67,fontWeight:'normal'}});
  titles.push({text:plus,left:x0+wm,top:top-24,padding:0,textStyle:{color:'#000',fontFamily:FONT,fontSize:11.67,fontWeight:'normal'}});
  titles.push({text:minus,left:x0+wm,top:top-13,padding:0,textStyle:{color:'#000',fontFamily:FONT,fontSize:11.67,fontWeight:'normal'}});
}
const chart=echarts.init(document.getElementById('c'),null,{renderer:'canvas',width:1809,height:1809});
chart.setOption({backgroundColor:'#fff',animation:false,title:titles,grid:grids,xAxis:xAxes,yAxis:yAxes,series:series,tooltip:{show:false},legend:{show:false}});
</script></body></html>
